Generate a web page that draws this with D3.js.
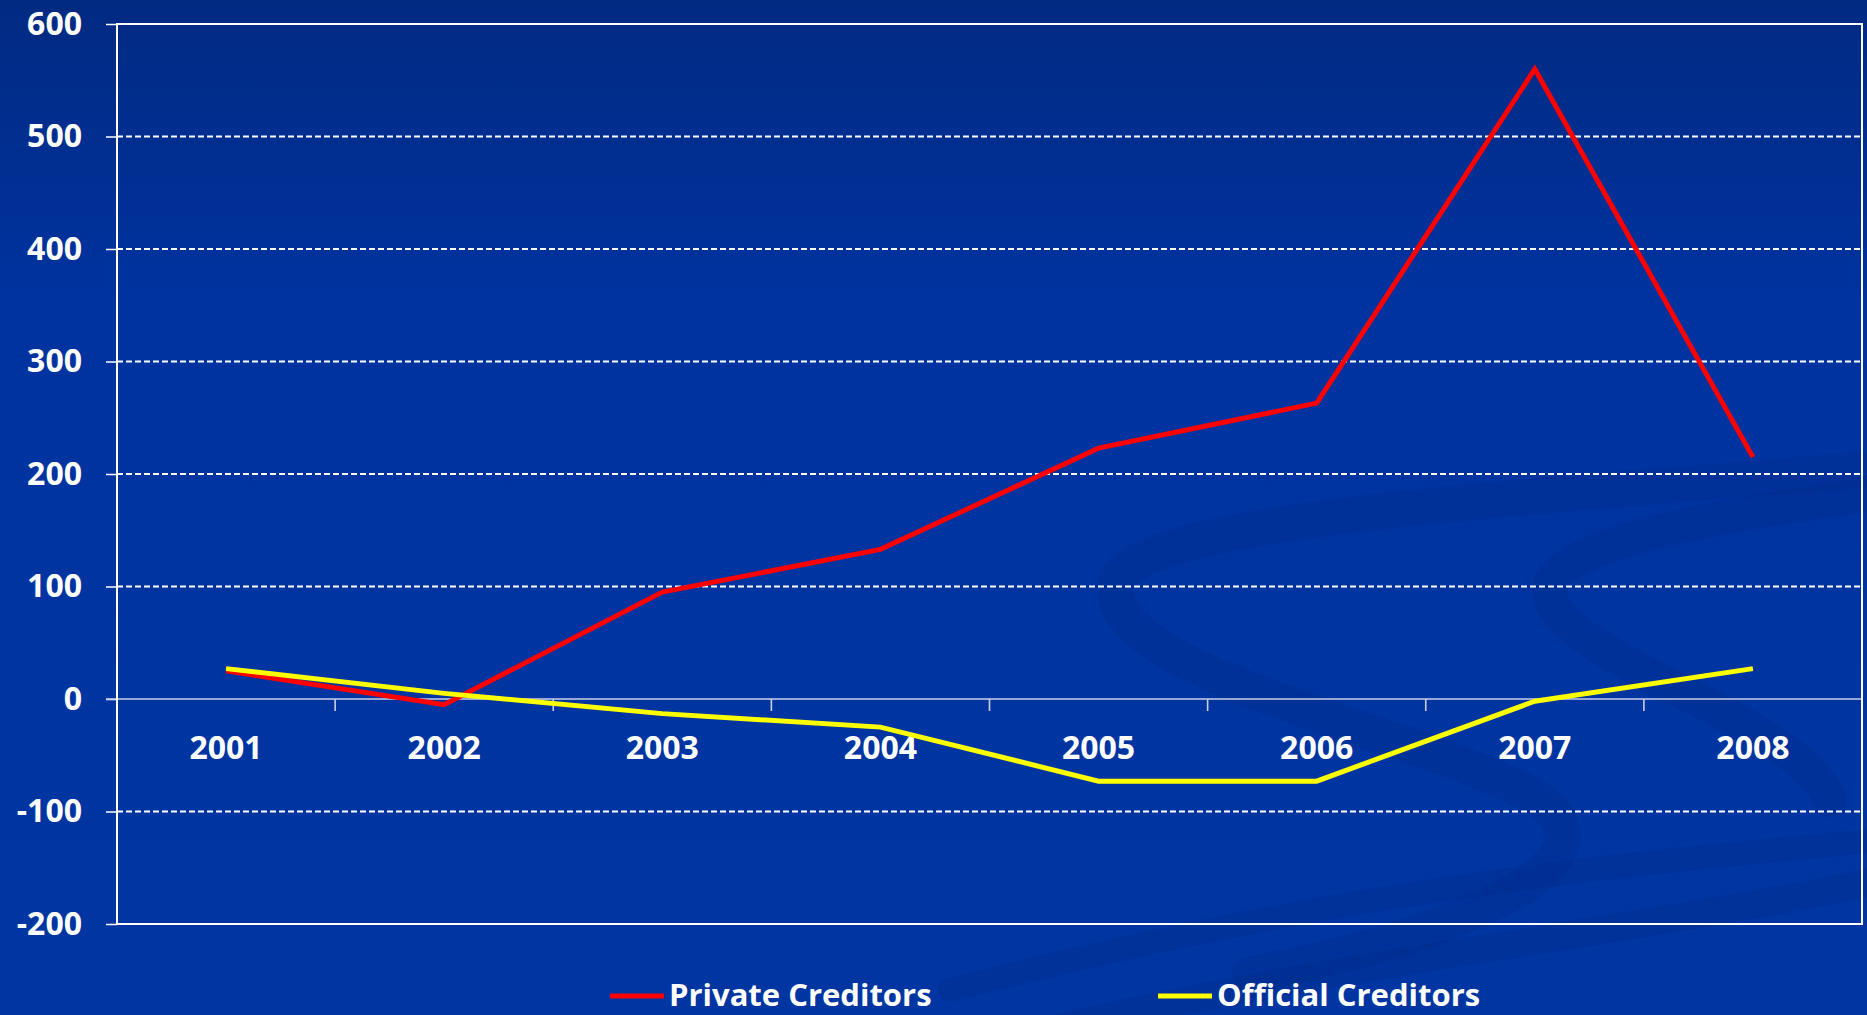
<!DOCTYPE html>
<html lang="en">
<head>
    <meta charset="utf-8">
    <title>Creditors</title>
    <script type="text/javascript" src="https://d3js.org/d3.v7.min.js"></script>
    <style>
        html, body { margin: 0; padding: 0; background: #0033a0; }
        svg { display: block; }
        text { font-family: "Open Sans", sans-serif; font-weight: 700; fill: #ffffff; }
    </style>
</head>
<body>
    <div id="chart"></div>

    <script type="text/javascript">
        // data
        const years = ["2001", "2002", "2003", "2004", "2005", "2006", "2007", "2008"];
        const privateCreditors = [25, -5, 95, 133, 223, 263, 560, 215];
        const officialCreditors = [27, 5, -13, -25, -73, -73, -2, 27];
        const yTicks = [-200, -100, 0, 100, 200, 300, 400, 500, 600];
        const seriesNames = ["Private Creditors", "Official Creditors"];
        const seriesColors = ["#ff0000", "#ffff00"];

        const width = 1867;
        const height = 1015;
        const margin = {left: 117, right: 5, top: 24, bottom: 91};

        const svg = d3.select("#chart")
            .append("svg")
            .attr("width", width)
            .attr("height", height);

        // background
        const defs = svg.append("defs");
        const grad = defs.append("linearGradient")
            .attr("id", "bg")
            .attr("x1", 0).attr("y1", 0).attr("x2", 0).attr("y2", 1);
        grad.append("stop").attr("offset", "0%").attr("stop-color", "#012a82");
        grad.append("stop").attr("offset", "30%").attr("stop-color", "#0033a0");
        grad.append("stop").attr("offset", "100%").attr("stop-color", "#0035a2");

        svg.append("rect")
            .attr("width", width)
            .attr("height", height)
            .attr("fill", "url(#bg)");

        // faint swooshes behind the plot
        const swoosh = svg.append("g")
            .attr("fill", "none")
            .attr("stroke", "#002c88")
            .attr("stroke-opacity", 0.3)
            .attr("stroke-linecap", "round");
        swoosh.append("path")
            .attr("stroke-width", 36)
            .attr("d", "M1860,470 C1500,500 1110,520 1115,590 C1120,680 1420,730 1540,800 C1620,860 1480,930 1250,975");
        swoosh.append("path")
            .attr("stroke-width", 34)
            .attr("d", "M1867,495 C1720,515 1540,545 1550,595 C1560,660 1800,720 1830,800");
        swoosh.append("path")
            .attr("stroke-width", 28)
            .attr("d", "M1050,1030 C1350,960 1650,930 1880,880");
        swoosh.append("path")
            .attr("stroke-width", 24)
            .attr("d", "M950,990 C1300,900 1550,870 1880,840");

        const x = d3.scaleBand()
            .domain(years)
            .range([margin.left, width - margin.right])
            .padding(0);

        const y = d3.scaleLinear()
            .domain([-200, 600])
            .range([height - margin.bottom, margin.top]);

        const cx = d => x(d) + x.bandwidth() / 2;

        // dashed grid
        svg.append("g")
            .selectAll("line")
            .data(yTicks.filter(v => v !== 0 && v !== -200 && v !== 600))
            .join("line")
            .attr("x1", margin.left)
            .attr("x2", width - margin.right)
            .attr("y1", d => y(d))
            .attr("y2", d => y(d))
            .attr("stroke", "#ffffff")
            .attr("stroke-width", 2)
            .attr("stroke-dasharray", "6,3");

        // y axis
        const yAxis = d3.axisLeft(y)
            .tickValues(yTicks)
            .tickFormat(d => String(d))
            .tickSize(11)
            .tickPadding(24);
        const gy = svg.append("g")
            .attr("transform", "translate(" + margin.left + ",0)")
            .call(yAxis);
        gy.select(".domain").remove();
        gy.selectAll(".tick line").attr("stroke", "#ffffff").attr("stroke-width", 1.5);
        gy.selectAll(".tick text")
            .attr("font-size", 32)
            .attr("font-family", "Open Sans")
            .attr("font-weight", 700)
            .attr("fill", "#ffffff");

        // zero line with category separators
        svg.append("line")
            .attr("x1", margin.left - 11)
            .attr("x2", width - margin.right)
            .attr("y1", y(0))
            .attr("y2", y(0))
            .attr("stroke", "#c9cfe6")
            .attr("stroke-width", 1.6);

        svg.append("g")
            .selectAll("line")
            .data(years.slice(1))
            .join("line")
            .attr("x1", d => x(d))
            .attr("x2", d => x(d))
            .attr("y1", y(0))
            .attr("y2", y(0) + 12)
            .attr("stroke", "#c9cfe6")
            .attr("stroke-width", 1.6);

        // x labels
        const xAxis = d3.axisBottom(x)
            .tickSize(0)
            .tickPadding(37);
        const gx = svg.append("g")
            .attr("transform", "translate(0," + y(0) + ")")
            .call(xAxis);
        gx.select(".domain").remove();
        gx.selectAll(".tick text")
            .attr("font-size", 32)
            .attr("font-family", "Open Sans")
            .attr("font-weight", 700)
            .attr("fill", "#ffffff");

        // plot frame
        svg.append("rect")
            .attr("x", margin.left)
            .attr("y", margin.top)
            .attr("width", width - margin.right - margin.left)
            .attr("height", height - margin.bottom - margin.top)
            .attr("fill", "none")
            .attr("stroke", "#ffffff")
            .attr("stroke-width", 2);

        // lines
        const line = d3.line()
            .x((d, i) => cx(years[i]))
            .y(d => y(d));

        [privateCreditors, officialCreditors].forEach(function(series, i) {
            svg.append("path")
                .datum(series)
                .attr("fill", "none")
                .attr("stroke", seriesColors[i])
                .attr("stroke-width", 5)
                .attr("stroke-linejoin", "miter")
                .attr("d", line);
        });

        // legend
        const legendX = [610, 1158];
        const legend = svg.append("g")
            .selectAll("g")
            .data(seriesNames)
            .join("g")
            .attr("transform", (d, i) => "translate(" + legendX[i] + ",996)");
        legend.append("line")
            .attr("x1", 0)
            .attr("x2", 54)
            .attr("stroke", (d, i) => seriesColors[i])
            .attr("stroke-width", 5);
        legend.append("text")
            .attr("x", 59)
            .attr("y", 10)
            .attr("font-size", 31)
            .text(d => d);
    </script>
</body>
</html>
